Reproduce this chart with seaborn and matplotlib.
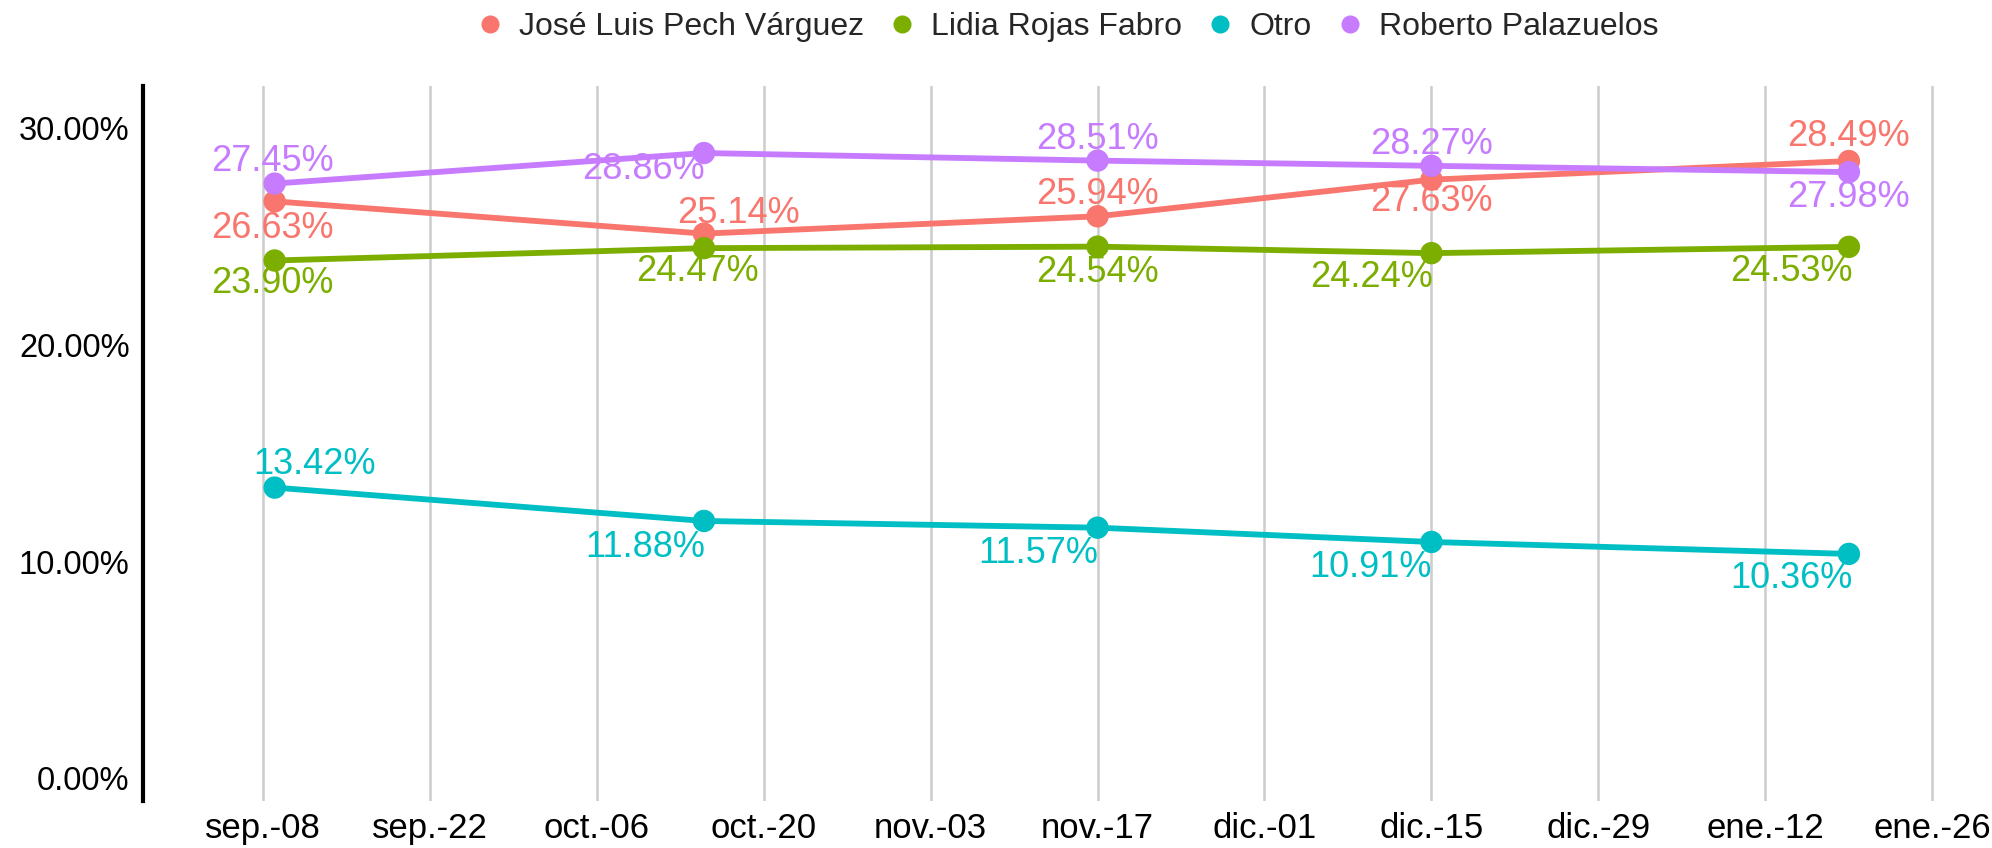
import pandas as pd
import matplotlib
matplotlib.use("Agg")
import matplotlib.pyplot as plt
import matplotlib.dates as mdates
from matplotlib.lines import Line2D
import seaborn as sns

# data
fechas = ["2024-09-09", "2024-10-15", "2024-11-17", "2024-12-15", "2025-01-19"]
candidatos = ["José Luis Pech Várguez", "Lidia Rojas Fabro", "Otro", "Roberto Palazuelos"]
pech = [26.63, 25.14, 25.94, 27.63, 28.49]
rojas = [23.90, 24.47, 24.54, 24.24, 24.53]
otro = [13.42, 11.88, 11.57, 10.91, 10.36]
palazuelos = [27.45, 28.86, 28.51, 28.27, 27.98]

tick_fechas = pd.date_range("2024-09-08", periods=11, freq="14D")
tick_labels = ["sep.-08", "sep.-22", "oct.-06", "oct.-20", "nov.-03", "nov.-17",
               "dic.-01", "dic.-15", "dic.-29", "ene.-12", "ene.-26"]
y_ticks = [0, 10, 20, 30]

colores = ["#F8766D", "#7CAE00", "#00BFC4", "#C77CFF"]

# label offsets (image px, +down) per candidate, per date
offsets = {
    "José Luis Pech Várguez": [(-2, 21), (27, -16), (0, -17), (0, 17), (0, -19)],
    "Lidia Rojas Fabro": [(-2, 18), (-5, 18), (0, 20), (-47, 19), (-45, 19)],
    "Otro": [(31, -18), (-46, 21), (-47, 20), (-48, 20), (-45, 19)],
    "Roberto Palazuelos": [(-2, -17), (-48, 13), (0, -17), (0, -17), (0, 20)],
}

df = pd.DataFrame({
    "fecha": pd.to_datetime(fechas * 4),
    "candidato": [c for c in candidatos for _ in fechas],
    "valor": pech + rojas + otro + palazuelos,
})

sns.set_theme(style="white")
plt.rcParams["font.family"] = ["Liberation Sans", "DejaVu Sans"]

fig = plt.figure(figsize=(19.92, 8.48), dpi=100)
ax = fig.add_axes([0.072, 0.055, 0.928, 0.8435])

palette = dict(zip(candidatos, colores))
sns.lineplot(data=df, x="fecha", y="valor", hue="candidato", palette=palette,
             linewidth=4.2, legend=False, ax=ax, zorder=3)
sns.scatterplot(data=df, x="fecha", y="valor", hue="candidato", palette=palette,
                s=260, edgecolor="none", legend=False, ax=ax, zorder=4)

for cand in candidatos:
    sub = df[df["candidato"] == cand]
    for (fx, val), (dx, dy) in zip(zip(sub["fecha"], sub["valor"]), offsets[cand]):
        ax.annotate(f"{val:.2f}%", (mdates.date2num(fx), val),
                    xytext=(dx * 0.915, -dy * 0.915), textcoords="offset points",
                    ha="center", va="center", fontsize=26, color=palette[cand], zorder=5)

ax.set_xlim(mdates.date2num(pd.Timestamp("2024-08-29")),
            mdates.date2num(pd.Timestamp("2025-01-31")))
ax.set_ylim(-1.06, 31.95)
ax.set_xticks(mdates.date2num(tick_fechas))
ax.set_xticklabels(tick_labels)
ax.set_yticks(y_ticks)
ax.set_yticklabels([f"{v:.2f}%" for v in y_ticks])
ax.tick_params(axis="both", length=0, colors="black")
ax.tick_params(axis="x", pad=8, labelsize=25)
ax.tick_params(axis="y", pad=10, labelsize=23.5)
ax.set_xlabel("")
ax.set_ylabel("")

ax.xaxis.grid(True, color="#CCCCCC", linewidth=1.8)
ax.yaxis.grid(False)
for side in ["top", "right", "bottom"]:
    ax.spines[side].set_visible(False)
ax.spines["left"].set_color("black")
ax.spines["left"].set_linewidth(3)

handles = [Line2D([], [], marker="o", linestyle="", markersize=13,
                  markerfacecolor=c, markeredgecolor="none") for c in colores]
fig.legend(handles, candidatos, loc="center", bbox_to_anchor=(0.536, 0.968),
           ncol=4, frameon=False, fontsize=23, handlelength=0.8,
           handletextpad=0.5, columnspacing=0.8)

fig.savefig("out.png", dpi=100, facecolor="white")
